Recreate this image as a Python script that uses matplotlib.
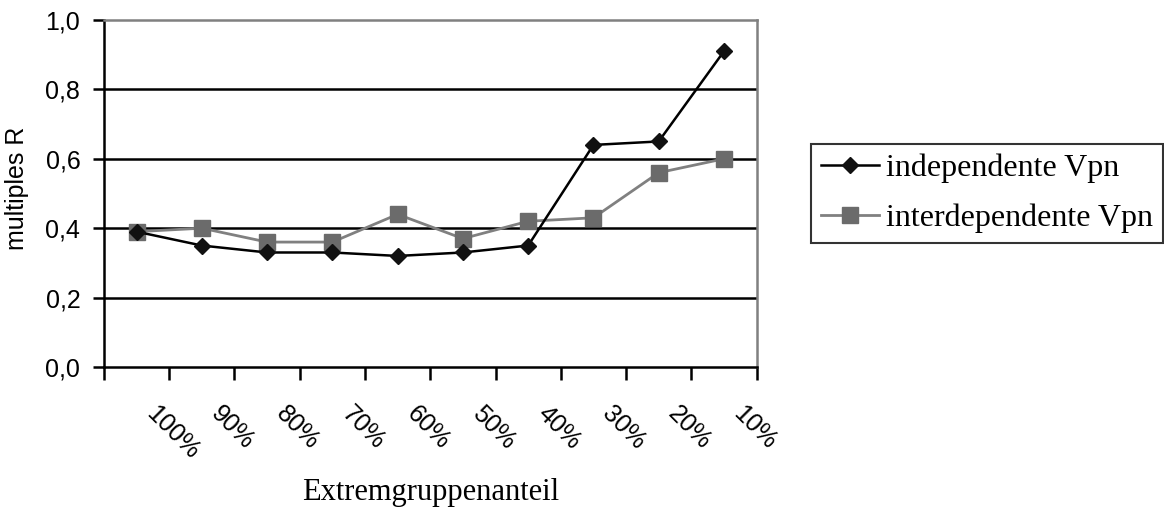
import numpy as np
import matplotlib.pyplot as plt
import matplotlib.transforms as mtransforms
from matplotlib.ticker import FixedLocator, NullFormatter

# Anteil der Extremgruppen und multiples R je Gruppe
categories = ['100%', '90%', '80%', '70%', '60%', '50%', '40%', '30%', '20%', '10%']
independent = [0.39, 0.35, 0.33, 0.33, 0.32, 0.33, 0.35, 0.64, 0.65, 0.91]
interdependent = [0.39, 0.40, 0.36, 0.36, 0.44, 0.37, 0.42, 0.43, 0.56, 0.60]
y_ticks = [0.0, 0.2, 0.4, 0.6, 0.8, 1.0]

fig = plt.figure(figsize=(11.64, 5.16), dpi=100)
ax = fig.add_axes([0.0893, 0.2888, 0.5607, 0.6724])

x = np.arange(len(categories)) + 0.5

# horizontal gridlines
for yv in y_ticks[1:-1]:
    ax.axhline(yv, color='black', lw=1.8, zorder=1)

ax.plot(x, independent, color='black', lw=1.8, marker='D', ms=8.5,
        mfc='#111111', mec='#111111', label='independente Vpn', zorder=3)
ax.plot(x, interdependent, color='#808080', lw=2, marker='s', ms=11,
        mfc='#6b6b6b', mec='#6b6b6b', label='interdependente Vpn', zorder=2)

ax.set_xlim(0, len(categories))
ax.set_ylim(0, 1.0)

# category boundaries get tick marks, labels sit between them
ax.xaxis.set_major_locator(FixedLocator(np.arange(len(categories) + 1)))
ax.xaxis.set_major_formatter(NullFormatter())
ax.xaxis.set_minor_locator(FixedLocator(x))
ax.set_xticklabels(categories, minor=True)
ax.tick_params(axis='x', which='major', length=9, width=1.8, direction='out')
ax.tick_params(axis='x', which='minor', length=0, pad=31)
shift = mtransforms.ScaledTranslation(13 / 100, 0, fig.dpi_scale_trans)
for lbl in ax.get_xticklabels(minor=True):
    lbl.set_rotation(-45)
    lbl.set_rotation_mode('anchor')
    lbl.set_ha('left')
    lbl.set_va('center')
    lbl.set_fontfamily('Liberation Sans')
    lbl.set_fontsize(18)
    lbl.set_transform(lbl.get_transform() + shift)

ax.set_yticks(y_ticks)
ax.set_yticklabels([f'{v:.1f}'.replace('.', ',') for v in y_ticks],
                   fontfamily='Liberation Sans', fontsize=18)
ax.tick_params(axis='y', length=8, width=1.8, direction='out', pad=9)

for side in ['left', 'bottom']:
    ax.spines[side].set_color('black')
    ax.spines[side].set_linewidth(1.8)
for side in ['top', 'right']:
    ax.spines[side].set_color('#808080')
    ax.spines[side].set_linewidth(1.8)

ax.set_ylabel('multiples R', fontfamily='Liberation Sans', fontsize=18)
ax.yaxis.set_label_coords(-0.115, 0.515)
ax.set_xlabel('Extremgruppenanteil', fontfamily='Liberation Serif', fontsize=22, labelpad=10)

leg = ax.legend(loc='center left', bbox_to_anchor=(1.084, 0.50),
                prop={'family': 'Liberation Serif', 'size': 23},
                frameon=True, fancybox=False, edgecolor='black',
                handlelength=1.8, handletextpad=0.25, borderpad=0.3,
                labelspacing=0.65, borderaxespad=0)
leg.get_frame().set_linewidth(1.5)

fig.savefig('out.png', dpi=100)
